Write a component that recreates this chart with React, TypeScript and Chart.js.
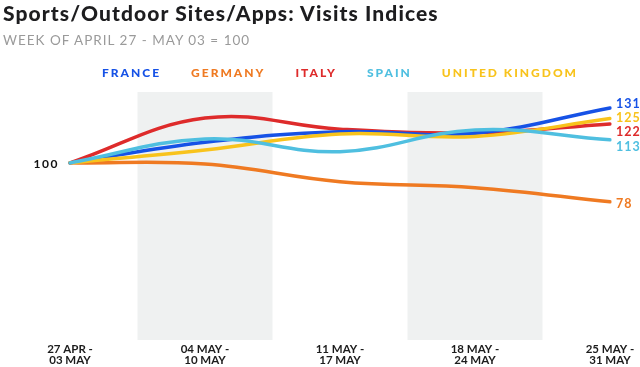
import React, { useEffect, useRef } from "react";
import { Chart, registerables } from "chart.js";

Chart.register(...registerables);

const weeks: string[][] = [
  ["27 APR -", "03 MAY"],
  ["04 MAY -", "10 MAY"],
  ["11 MAY -", "17 MAY"],
  ["18 MAY -", "24 MAY"],
  ["25 MAY -", "31 MAY"],
];
const seriesNames = ["FRANCE", "GERMANY", "ITALY", "SPAIN", "UNITED KINGDOM"];
const france = [100, 111.6, 117.6, 116.7, 131];
const germany = [100, 99.4, 89.4, 86, 78];
const italy = [100, 125.3, 119, 117, 122];
const spain = [100, 113.5, 106.3, 118.6, 113];
const uk = [100, 107.3, 116.3, 114.9, 125];
const seriesColors = ["#1652e6", "#ef7a22", "#de2b2b", "#4fbfe0", "#f8c31c"];
const drawOrder = [3, 5, 4, 1, 2];
const shadedWeeks = [1, 3];
const baseValue = 100;
const yMin = 0;
const yMax = 140;

const FONT = "Lato, 'Open Sans', sans-serif";

const bandPlugin = {
  id: "bands",
  beforeDatasetsDraw(chart: any) {
    const { ctx, chartArea, scales } = chart;
    const xs = scales.x;
    const step = xs.getPixelForValue(1) - xs.getPixelForValue(0);
    ctx.save();
    ctx.fillStyle = "#eff1f1";
    shadedWeeks.forEach((i) => {
      const cx = xs.getPixelForValue(i);
      ctx.fillRect(cx - step / 2, chartArea.top, step, chartArea.bottom - chartArea.top);
    });
    ctx.restore();
  },
};

const labelPlugin = {
  id: "endLabels",
  afterDatasetsDraw(chart: any) {
    const { ctx, scales } = chart;
    ctx.save();
    ctx.font = `bold 12px ${FONT}`;
    (ctx as any).letterSpacing = "1.5px";
    ctx.fillStyle = "#111";
    ctx.textAlign = "right";
    ctx.textBaseline = "middle";
    ctx.fillText(String(baseValue), 59, scales.y.getPixelForValue(baseValue) + 1);

    const items = chart.data.datasets.map((ds: any, i: number) => {
      const meta = chart.getDatasetMeta(i);
      const pt = meta.data[meta.data.length - 1];
      return { y0: pt.y, y: pt.y, x: pt.x, text: String(Math.round(ds.data[ds.data.length - 1])), color: ds.borderColor };
    });
    items.sort((a: any, b: any) => a.y0 - b.y0);
    const gap = 14.3;
    let clusters: any[][] = items.map((it: any) => [it]);
    const place = (c: any[]) => {
      let s = 0;
      c.forEach((it, k) => (s += it.y0 - k * gap));
      const a = s / c.length;
      c.forEach((it, k) => (it.y = a + k * gap));
    };
    let merged = true;
    while (merged) {
      merged = false;
      clusters.forEach(place);
      for (let i = 1; i < clusters.length; i++) {
        const prev = clusters[i - 1];
        const cur = clusters[i];
        if (cur[0].y - prev[prev.length - 1].y < gap) {
          clusters.splice(i - 1, 2, prev.concat(cur));
          merged = true;
          break;
        }
      }
    }
    clusters.forEach(place);
    ctx.textAlign = "left";
    (ctx as any).letterSpacing = "1px";
    ctx.font = `bold 12.5px ${FONT}`;
    items.forEach((it: any) => {
      ctx.fillStyle = it.color;
      ctx.fillText(it.text, it.x + 6, it.y + 2.5);
    });
    ctx.restore();
  },
};

export default function App() {
  const ref = useRef<HTMLCanvasElement>(null);
  useEffect(() => {
    if (!ref.current) return;
    const all = [france, germany, italy, spain, uk];
    const chart = new Chart(ref.current, {
      type: "line",
      data: {
        labels: weeks,
        datasets: all.map((d, i) => ({
          label: seriesNames[i],
          data: d,
          borderColor: seriesColors[i],
          backgroundColor: seriesColors[i],
          borderWidth: 3.5,
          pointRadius: 0,
          tension: 0.4,
          fill: false,
          order: drawOrder[i],
          borderCapStyle: "round",
        })),
      },
      options: {
        animation: false,
        responsive: true,
        maintainAspectRatio: false,
        layout: { padding: { left: 70, right: 30, top: 92, bottom: 0 } },
        plugins: { legend: { display: false }, tooltip: { enabled: false }, title: { display: false } },
        scales: {
          x: {
            type: "category",
            offset: false,
            grid: { display: false, drawTicks: false },
            border: { display: false },
            ticks: {
              autoSkip: false,
              maxRotation: 0,
              padding: 4,
              color: "#1c1c1c",
              font: { family: FONT, size: 11.5, weight: "bold", lineHeight: 0.95 },
            },
            afterFit: (s: any) => {
              s.height = 27;
            },
          },
          y: {
            display: false,
            min: yMin,
            max: yMax,
          },
        },
      },
      plugins: [bandPlugin, labelPlugin],
    });
    return () => chart.destroy();
  }, []);

  return (
    <div style={{ position: "fixed", left: 0, top: 0, width: 640, height: 367, background: "#fff", overflow: "hidden" }}>
      <canvas ref={ref} style={{ position: "absolute", left: 0, top: 0 }} />
      <div
        style={{
          position: "absolute",
          left: 3,
          top: 1,
          fontFamily: FONT,
          fontWeight: 900,
          fontSize: 21,
          lineHeight: "24px",
          letterSpacing: "1.1px",
          color: "#1d1d1f",
          whiteSpace: "nowrap",
        }}
      >
        Sports/Outdoor Sites/Apps: Visits Indices
      </div>
      <div
        style={{
          position: "absolute",
          left: 3,
          top: 32,
          fontFamily: FONT,
          fontSize: 13.5,
          lineHeight: "16px",
          letterSpacing: "1px",
          color: "#9a9a9a",
          whiteSpace: "nowrap",
        }}
      >
        WEEK OF APRIL 27 - MAY 03 = 100
      </div>
      <div
        style={{
          position: "absolute",
          left: 70,
          width: 540,
          top: 66,
          display: "flex",
          justifyContent: "center",
          gap: 30,
          fontFamily: FONT,
          fontWeight: 900,
          fontSize: 12,
          lineHeight: "14px",
          letterSpacing: "2px",
          whiteSpace: "nowrap",
        }}
      >
        {seriesNames.map((n, i) => (
          <span key={n} style={{ color: seriesColors[i] }}>
            {n}
          </span>
        ))}
      </div>
    </div>
  );
}
